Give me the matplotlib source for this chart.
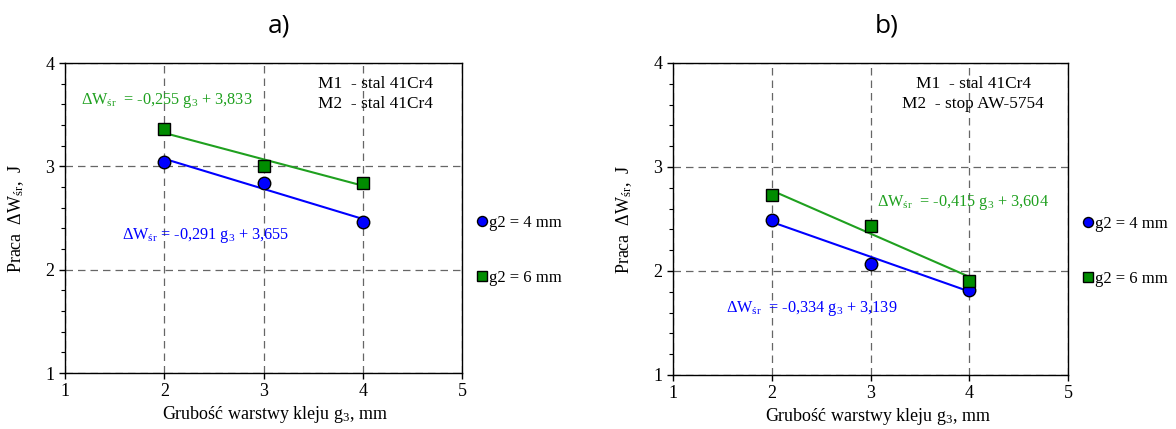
import matplotlib
matplotlib.use("Agg")
import matplotlib.pyplot as plt
import numpy as np
from matplotlib.ticker import MultipleLocator

plt.rcParams["font.family"] = ["Liberation Serif", "DejaVu Serif"]
plt.rcParams["mathtext.fontset"] = "custom"
plt.rcParams["mathtext.rm"] = "Liberation Serif"
plt.rcParams["mathtext.it"] = "Liberation Serif"

# grubość warstwy kleju g3 [mm]
g3 = [2, 3, 4]

# panel a) M1 - stal 41Cr4, M2 - stal 41Cr4
a_g2_4 = [3.04, 2.84, 2.46]
a_g2_6 = [3.36, 3.00, 2.84]
a_fit_4 = (-0.291, 3.655)
a_fit_6 = (-0.255, 3.833)

# panel b) M1 - stal 41Cr4, M2 - stop AW-5754
b_g2_4 = [2.49, 2.07, 1.82]
b_g2_6 = [2.73, 2.43, 1.90]
b_fit_4 = (-0.334, 3.139)
b_fit_6 = (-0.415, 3.604)

series_labels = ["g2 = 4 mm", "g2 = 6 mm"]

BLUE = "#0000ff"
GREEN_M = "#008c00"
GREEN_L = "#1fa01f"


def eq_text(a, b, gap=" "):
    sa = f"{a:.3f}".replace(".", ",")
    sb = f"{b:.3f}".replace(".", ",")
    return "ΔW$_{\\mathrm{śr}}$" + gap + "= " + sa + " g$_3$ + " + sb


def draw_panel(ax, y4, y6, fit4, fit6, title, mat_lines, mat_pos, mat_ha,
               eq6_pos, eq4_pos, gap4, xlabel_x):
    x = np.array(g3, dtype=float)
    ax.plot(x, fit4[0] * x + fit4[1], color=BLUE, lw=1.5, zorder=2)
    ax.plot(x, fit6[0] * x + fit6[1], color=GREEN_L, lw=1.5, zorder=2)
    h1, = ax.plot(g3, y4, "o", color=BLUE, mec="black", mew=1.0, ms=9, zorder=3,
                  label=series_labels[0])
    h2, = ax.plot(g3, y6, "s", color=GREEN_M, mec="black", mew=1.0, ms=9, zorder=3,
                  label=series_labels[1])

    ax.set_xlim(1, 5)
    ax.set_ylim(1, 4)
    ax.xaxis.set_major_locator(MultipleLocator(1))
    ax.yaxis.set_major_locator(MultipleLocator(1))
    ax.yaxis.set_minor_locator(MultipleLocator(0.2))
    ax.tick_params(axis="both", which="major", direction="out", length=4,
                   labelsize=13, width=1)
    ax.tick_params(axis="y", which="minor", direction="out", length=3, width=0.8)
    ax.grid(True, which="major", color="#666666", ls=(0, (6, 4)), lw=0.9)
    for s in ax.spines.values():
        s.set_linewidth(1.0)

    ax.set_xlabel("Grubość warstwy kleju g$_3$, mm", fontsize=13)
    ax.xaxis.set_label_coords(xlabel_x, -0.1)
    ax.xaxis.label.set_va("top")
    ax.set_ylabel("Praca  ΔW$_{\\mathrm{śr}}$,  J", fontsize=13, labelpad=14)
    ax.set_title(title, fontsize=19, family=["Open Sans", "DejaVu Sans"], pad=22,
                 x=0.54)

    ax.text(mat_pos[0], mat_pos[1], "\n".join(mat_lines), fontsize=12.4,
            ha=mat_ha, va="top", multialignment=mat_ha, linespacing=1.3)
    ax.text(eq6_pos[0], eq6_pos[1], eq_text(*fit6, gap="  "), color=GREEN_L,
            fontsize=11.7, ha="left", va="center")
    ax.text(eq4_pos[0], eq4_pos[1], eq_text(*fit4, gap=gap4), color=BLUE,
            fontsize=11.7, ha="left", va="center")

    ax.legend(handles=[h1, h2], loc="center left", bbox_to_anchor=(1.02, 0.395),
              frameon=False, fontsize=12, handlelength=0.6, handletextpad=0.15,
              labelspacing=2.35, borderaxespad=0, markerscale=0.8)


fig = plt.figure(figsize=(11.76, 4.29), dpi=100)
ax_a = fig.add_axes([0.0553, 0.1305, 0.3376, 0.7226])
ax_b = fig.add_axes([0.5723, 0.1259, 0.3359, 0.7273])

draw_panel(ax_a, a_g2_4, a_g2_6, a_fit_4, a_fit_6, "a)",
           ["M1  - stal 41Cr4", "M2  - stal 41Cr4"], (3.55, 3.87), "left",
           (1.16, 3.64), (1.57, 2.33), " ", 0.53)
draw_panel(ax_b, b_g2_4, b_g2_6, b_fit_4, b_fit_6, "b)",
           ["M1  - stal 41Cr4", "M2  - stop AW-5754"], (4.04, 3.87), "center",
           (3.07, 2.66), (1.54, 1.64), "  ", 0.52)

fig.savefig("out.png", dpi=100)
